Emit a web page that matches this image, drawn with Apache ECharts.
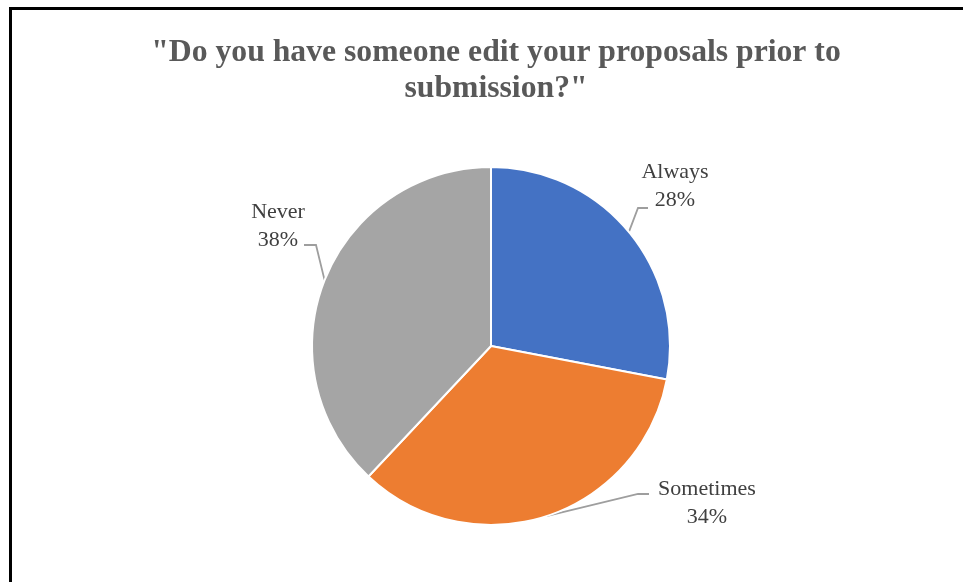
<!DOCTYPE html>
<html>
<head>
<meta charset="utf-8">
<script src="https://cdn.jsdelivr.net/npm/echarts@6/dist/echarts.min.js"></script>
<style>
  html, body { margin: 0; padding: 0; background: #fff; }
  #chart { position: absolute; left: 0; top: 0; width: 963px; height: 582px; }
  #frame { position: absolute; left: 9px; top: 7px; width: 970px; height: 600px;
           border-top: 3px solid #000; border-left: 3px solid #000; pointer-events: none; }
</style>
</head>
<body>
<div id="chart"></div>
<div id="frame"></div>
<script>
const titleText = '"Do you have someone edit your proposals prior to\nsubmission?"';
const categories = ['Always', 'Sometimes', 'Never'];
const values = [28, 34, 38];
const colors = ['#4472C4', '#ED7D31', '#A5A5A5'];

// layout (not data)
const CX = 491, CY = 346, R = 179;
const labelOffsets = [[184, -160], [216, 157], [-213, -120]];
const elbowOffsets = [[147, -138], [147, 148], [-175, -101]];
const endOffsets = [[157, -138], [158, 148], [-187, -101]];

const total = values.reduce((a, b) => a + b, 0);
function midAngle(i) {
  let s = 0;
  for (let k = 0; k < i; k++) s += values[k];
  return ((s + values[i] / 2) / total) * 2 * Math.PI; // from top, clockwise
}

const chart = echarts.init(document.getElementById('chart'), null, { renderer: 'canvas' });
chart.setOption({
  animation: false,
  backgroundColor: '#fff',
  title: {
    text: titleText,
    left: CX,
    top: 30,
    textAlign: 'center',
    textStyle: {
      fontFamily: 'Liberation Serif',
      fontWeight: 'bold',
      fontSize: 31.7,
      lineHeight: 36,
      color: '#595959'
    }
  },
  series: [{
    type: 'pie',
    center: [CX, CY],
    radius: R,
    startAngle: 90,
    clockwise: true,
    data: categories.map((c, i) => ({ name: c, value: values[i], itemStyle: { color: colors[i] } })),
    itemStyle: { borderColor: '#fff', borderWidth: 2 },
    label: {
      show: true,
      position: 'outside',
      formatter: '{b}\n{d}%',
      fontFamily: 'Liberation Serif',
      fontSize: 22,
      lineHeight: 28,
      color: '#404040',
      align: 'center'
    },
    labelLine: {
      show: true,
      length: 15,
      length2: 10,
      lineStyle: { color: '#9E9E9E', width: 1.8 }
    },
    labelLayout: function (params) {
      const i = params.dataIndex;
      const a = midAngle(i);
      const p0 = [CX + R * Math.sin(a), CY - R * Math.cos(a)];
      return {
        x: CX + labelOffsets[i][0],
        y: CY + labelOffsets[i][1],
        align: 'center',
        verticalAlign: 'middle',
        labelLinePoints: [
          p0,
          [CX + elbowOffsets[i][0], CY + elbowOffsets[i][1]],
          [CX + endOffsets[i][0], CY + endOffsets[i][1]]
        ]
      };
    },
    emphasis: { disabled: true }
  }]
});
</script>
</body>
</html>
